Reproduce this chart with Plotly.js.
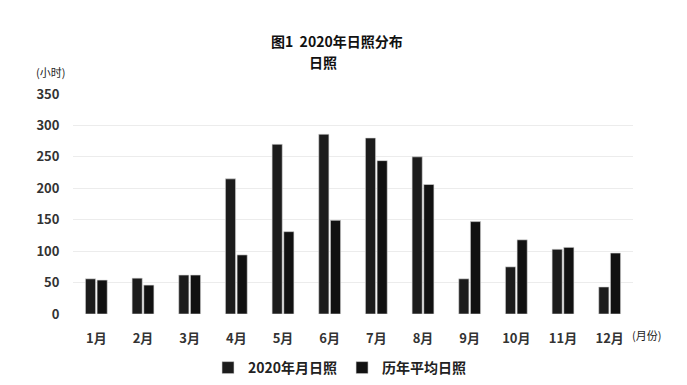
<!DOCTYPE html>
<html><head><meta charset="utf-8">
<script src="https://cdn.plot.ly/plotly-3.0.1.min.js"></script>
<style>html,body{margin:0;padding:0;background:#fff}#c{width:687px;height:385px}</style>
</head><body><div id="c"></div>
<script>
const months = ["1月","2月","3月","4月","5月","6月","7月","8月","9月","10月","11月","12月"];
const sun2020 = [56, 57, 62, 215, 270, 286, 280, 250, 56, 75, 103, 43];
const sunAvg = [54, 46, 62, 94, 131, 149, 244, 206, 147, 118, 106, 97];
const seriesNames = ["2020年月日照", "历年平均日照"];
const yTicks = [0, 50, 100, 150, 200, 250, 300, 350];

const font = "'Noto Sans CJK SC', 'Open Sans', sans-serif";
const traces = [
  {type:"bar", x:months, y:sun2020, name:seriesNames[0],
   marker:{color:"#1c1c1c", line:{color:"#d8d8d8", width:0.6}}},
  {type:"bar", x:months, y:sunAvg, name:seriesNames[1],
   marker:{color:"#111111", line:{color:"#d8d8d8", width:0.6}}}
];
const layout = {
  width:687, height:385,
  margin:{l:73, r:54, t:94, b:71, autoexpand:false},
  paper_bgcolor:"#fff", plot_bgcolor:"#fff",
  font:{family:font, color:"#333"},
  barmode:"group", bargap:0.5, bargroupgap:0.13,
  showlegend:true,
  legend:{orientation:"h", x:(340-73)/560, xanchor:"center", y:(385-71-368)/220, yanchor:"middle",
          font:{size:14, color:"#222", family:font, weight:"bold"}, itemwidth:30, traceorder:"normal"},
  xaxis:{tickfont:{size:13, color:"#333", family:font, weight:"bold"}, showline:false, ticks:"outside",
         ticklen:12, tickcolor:"rgba(0,0,0,0)", showgrid:false, zeroline:false, fixedrange:true},
  yaxis:{range:[0,350], tickvals:yTicks, tickfont:{size:13, color:"#333", family:font, weight:"bold"},
         gridcolor:"#ececec", gridwidth:1, zeroline:false, showline:false, ticks:"outside",
         ticklen:10, tickcolor:"rgba(0,0,0,0)", fixedrange:true},
  annotations:[
    {text:"图1  2020年日照分布", xref:"paper", yref:"paper", x:(337-73)/560, y:(385-41-71)/220,
     xanchor:"center", yanchor:"middle", showarrow:false, font:{size:14, color:"#111", weight:"bold", family:font}},
    {text:"日照", xref:"paper", yref:"paper", x:(323-73)/560, y:(385-62-71)/220,
     xanchor:"center", yanchor:"middle", showarrow:false, font:{size:14, color:"#111", weight:"bold", family:font}},
    {text:"(小时)", xref:"paper", yref:"paper", x:(50-73)/560, y:(385-72-71)/220,
     xanchor:"center", yanchor:"middle", showarrow:false, font:{size:11, color:"#222", family:font}},
    {text:"(月份)", xref:"paper", yref:"paper", x:(646-73)/560, y:(385-335-71)/220,
     xanchor:"center", yanchor:"middle", showarrow:false, font:{size:11, color:"#222", family:font}}
  ]
};
Plotly.newPlot("c", traces, layout, {displayModeBar:false, staticPlot:true});
</script></body></html>
